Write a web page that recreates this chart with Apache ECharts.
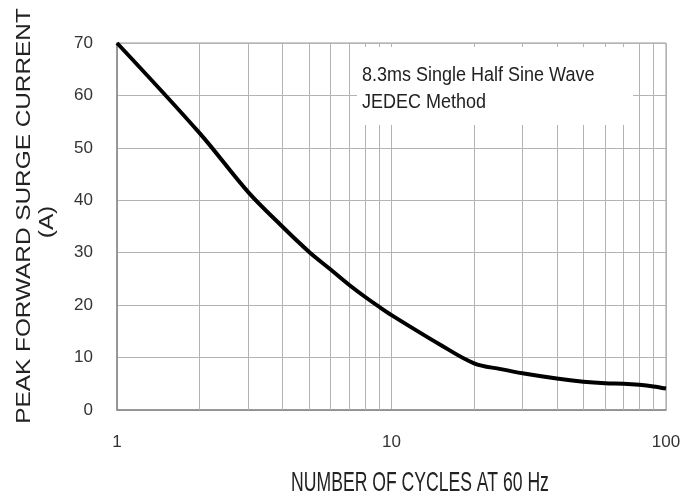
<!DOCTYPE html>
<html>
<head>
<meta charset="utf-8">
<script src="https://cdn.jsdelivr.net/npm/echarts@6/dist/echarts.min.js"></script>
<style>html,body{margin:0;padding:0;background:#fff}#c{width:693px;height:497px}</style>
</head>
<body>
<div id="c"></div>
<script>
var cycles = [1, 2, 3, 4, 5, 6, 7, 8, 9, 10, 15, 20, 25, 30, 40, 50, 60, 70, 80, 90, 100];
var current = [70, 52.8, 41.6, 35.0, 30.2, 26.8, 23.9, 21.6, 19.7, 18.1, 12.5, 8.9, 7.8, 7.0, 6.0, 5.4, 5.1, 5.0, 4.8, 4.5, 4.1];
var minorLines = [2, 3, 4, 5, 6, 7, 8, 9, 20, 30, 40, 50, 60, 70, 80, 90];
var yTicks = [0, 10, 20, 30, 40, 50, 60, 70];
var xTicks = [1, 10, 100];
var yName1 = 'PEAK FORWARD SURGE CURRENT';
var yName2 = '(A)';
var xName = 'NUMBER OF CYCLES AT 60 Hz';
var note1 = '8.3ms Single Half Sine Wave';
var note2 = 'JEDEC Method';

var FONT = '"Liberation Sans", Arial, sans-serif';
var chart = echarts.init(document.getElementById('c'));
var option = {
  animation: false,
  backgroundColor: '#fff',
  grid: { left: 117, top: 43, right: 27, bottom: 87, show: true, borderColor: '#9a9a9a', borderWidth: 1 },
  xAxis: {
    type: 'log', logBase: 10, min: xTicks[0], max: xTicks[xTicks.length - 1],
    axisLine: { show: true, lineStyle: { color: '#888', width: 1.5 } },
    axisTick: { show: false },
    axisLabel: { margin: 24, fontFamily: FONT, fontSize: 17, color: '#333' },
    splitLine: { show: true, lineStyle: { color: '#b3b3b3', width: 1 } }
  },
  yAxis: {
    type: 'value', min: yTicks[0], max: yTicks[yTicks.length - 1], interval: 10,
    axisLine: { show: true, lineStyle: { color: '#888', width: 1.5 } },
    axisTick: { show: false },
    axisLabel: { margin: 24, fontFamily: FONT, fontSize: 17, color: '#333' },
    splitLine: { show: true, lineStyle: { color: '#b3b3b3', width: 1 } }
  },
  series: [
    {
      type: 'line', data: [], silent: true, z: 1,
      markLine: {
        silent: true, symbol: ['none', 'none'], animation: false, z: 1,
        label: { show: false },
        lineStyle: { color: '#b3b3b3', width: 1, type: 'solid' },
        data: minorLines.map(function (v) { return { xAxis: v }; })
      }
    },
    {
      type: 'line', smooth: 0.35, showSymbol: false, z: 6,
      lineStyle: { color: '#000', width: 4 },
      data: cycles.map(function (c, i) { return [c, current[i]]; })
    }
  ],
  graphic: [
    { type: 'rect', z: 20, shape: { x: 357, y: 47, width: 276, height: 78 }, style: { fill: '#fff' } },
    { type: 'text', z: 21, x: 362, y: 75, scaleY: 1.15,
      style: { text: note1, font: '18px ' + FONT, fill: '#222', verticalAlign: 'middle' } },
    { type: 'text', z: 21, x: 362, y: 102, scaleY: 1.15,
      style: { text: note2, font: '18px ' + FONT, fill: '#222', verticalAlign: 'middle' } },
    { type: 'text', z: 21, x: 24, y: 216, rotation: Math.PI / 2, scaleX: 1.16,
      style: { text: yName1, font: '21px ' + FONT, fill: '#222', align: 'center', verticalAlign: 'middle' } },
    { type: 'text', z: 21, x: 47, y: 222, rotation: Math.PI / 2, scaleX: 1.16,
      style: { text: yName2, font: '21px ' + FONT, fill: '#222', align: 'center', verticalAlign: 'middle' } },
    { type: 'text', z: 21, x: 420, y: 483, scaleY: 1.55,
      style: { text: xName, font: '17.6px ' + FONT, fill: '#222', align: 'center', verticalAlign: 'middle' } }
  ]
};
chart.setOption(option);
</script>
</body>
</html>
